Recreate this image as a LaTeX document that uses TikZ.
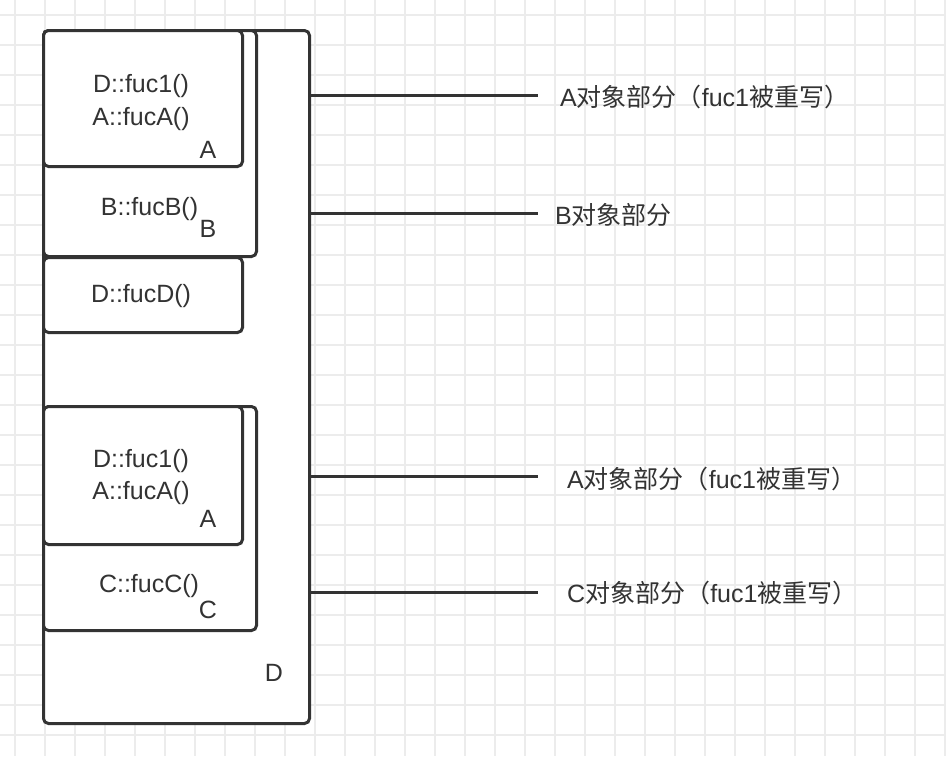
\documentclass[tikz,border=0pt]{standalone}
\usepackage{fontspec}
\setmainfont{Liberation Sans}
\newfontfamily\cjk{Noto Sans CJK SC}
\definecolor{ink}{RGB}{51,51,51}
\definecolor{gridc}{RGB}{236,236,236}
\begin{document}
\begin{tikzpicture}[x=1pt,y=-1pt,
  box/.style={draw=ink, line width=3pt, fill=white, rounded corners=5pt, inner sep=0pt, anchor=north west},
  txt/.style={anchor=base, inner sep=0pt, text=ink, font=\fontsize{25}{30}\selectfont},
  lbl/.style={anchor=base west, inner sep=0pt, text=ink, font=\fontsize{25}{30}\selectfont},
  conn/.style={draw=ink, line width=3pt}]
\useasboundingbox (0,0) rectangle (946,756);
\fill[white] (0,0) rectangle (946,756);
% grid
\foreach \i in {0,...,31} { \draw[gridc, line width=1.5pt] (15+30*\i,0) -- (15+30*\i,756); }
\foreach \j in {0,...,24} { \draw[gridc, line width=1.5pt] (0,15+30*\j) -- (946,15+30*\j); }
% boxes
\node[box, minimum width=266pt, minimum height=693pt] (dbox) at (42,29) {};
\node[box, minimum width=199pt, minimum height=75pt] (fdbox) at (42,256) {};
\node[box, minimum width=213pt, minimum height=226pt] (bbox) at (42,29) {};
\node[box, minimum width=199pt, minimum height=136pt] (abox) at (42,29) {};
\node[box, minimum width=213pt, minimum height=224pt] (cbox) at (42,405) {};
\node[box, minimum width=199pt, minimum height=138pt] (abox2) at (42,405) {};
% texts
\node[txt] (t1) at (141,92) {D::fuc1()};
\node[txt] (t2) at (141,125) {A::fucA()};
\node[txt] (t3) at (208,158) {A};
\node[txt] (t4) at (149.5,215) {B::fucB()};
\node[txt] (t5) at (208,237) {B};
\node[txt] (t6) at (141,302) {D::fucD()};
\node[txt] (t7) at (141,467) {D::fuc1()};
\node[txt] (t8) at (141,499) {A::fucA()};
\node[txt] (t9) at (208,527) {A};
\node[txt] (t10) at (149,592) {C::fucC()};
\node[txt] (t11) at (208,618) {C};
\node[txt] (t12) at (274,681) {D};
% connectors
\coordinate (e1) at (538,95);
\coordinate (e2) at (538,213);
\coordinate (e3) at (538,476);
\coordinate (e4) at (538,592);
\draw[conn] (dbox.east |- e1) -- (e1);
\draw[conn] (dbox.east |- e2) -- (e2);
\draw[conn] (dbox.east |- e3) -- (e3);
\draw[conn] (dbox.east |- e4) -- (e4);
% labels
\node[lbl] (l1) at (560,106) {A{\cjk 对象部分（}fuc1{\cjk 被重写）}};
\node[lbl] (l2) at (555,224) {B{\cjk 对象部分}};
\node[lbl] (l3) at (567,488) {A{\cjk 对象部分（}fuc1{\cjk 被重写）}};
\node[lbl] (l4) at (567,602) {C{\cjk 对象部分（}fuc1{\cjk 被重写）}};
\end{tikzpicture}
\end{document}
